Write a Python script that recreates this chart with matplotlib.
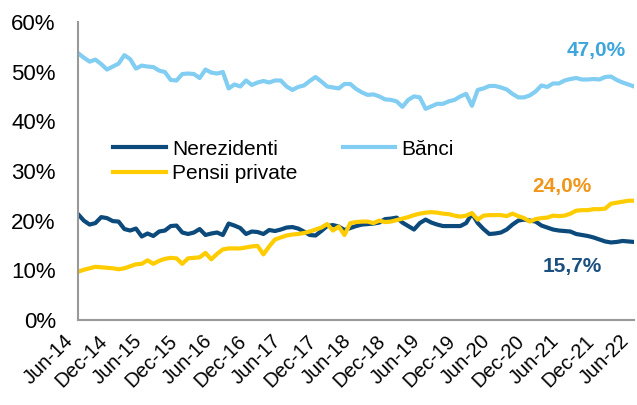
import numpy as np
import pandas as pd
import matplotlib
matplotlib.use("Agg")
import matplotlib.pyplot as plt
import matplotlib.transforms as mtransforms
from matplotlib.ticker import PercentFormatter

plt.rcParams["font.family"] = ["Liberation Sans", "DejaVu Sans"]

# monthly shares of holdings, Jun-14 .. Jun-22 (%)
nerezidenti = [
    21.3, 20.0, 19.2, 19.5, 20.7, 20.5, 19.9, 19.8, 18.3, 18.0,
    18.4, 16.8, 17.4, 16.9, 17.8, 18.0, 18.9, 19.0, 17.6, 17.3,
    17.6, 18.3, 17.1, 17.4, 17.6, 17.1, 19.4, 19.0, 18.5, 17.3,
    17.8, 17.7, 17.3, 18.1, 17.9, 18.2, 18.6, 18.7, 18.4, 17.8,
    17.1, 17.0, 17.9, 18.9, 19.1, 18.8, 18.1, 18.5, 18.9, 19.2,
    19.3, 19.4, 19.6, 20.3, 20.4, 20.6, 19.6, 18.9, 18.2, 19.5,
    20.2, 19.6, 19.2, 18.9, 18.9, 18.9, 18.9, 19.5, 21.4, 19.5,
    18.3, 17.3, 17.4, 17.6, 18.2, 19.2, 20.0, 20.2, 20.0, 19.8,
    19.0, 18.6, 18.2, 18.0, 17.9, 17.8, 17.3, 17.1, 16.9, 16.6,
    16.2, 15.8, 15.6, 15.7, 15.9, 15.8, 15.7,
]
banci = [
    53.7, 52.8, 52.0, 52.4, 51.5, 50.4, 51.0, 51.6, 53.3, 52.5,
    50.6, 51.2, 51.0, 50.9, 50.2, 49.9, 48.3, 48.2, 49.5, 49.6,
    49.5, 48.7, 50.4, 49.8, 49.6, 49.9, 46.6, 47.4, 47.0, 48.2,
    47.3, 47.8, 48.1, 47.8, 48.2, 48.2, 47.0, 46.3, 46.9, 47.2,
    48.1, 48.9, 48.0, 47.0, 46.8, 46.6, 47.5, 47.5, 46.5, 45.8,
    45.3, 45.4, 45.0, 44.4, 44.3, 44.0, 42.9, 44.3, 45.0, 44.8,
    42.5, 43.0, 43.5, 43.5, 44.0, 44.3, 45.0, 45.5, 43.1, 46.3,
    46.6, 47.1, 47.1, 46.8, 46.4, 45.5, 44.8, 44.8, 45.2, 46.0,
    47.2, 46.9, 47.6, 47.6, 48.2, 48.5, 48.7, 48.4, 48.4, 48.5,
    48.4, 48.9, 49.0, 48.3, 47.8, 47.4, 47.0,
]
pensii = [
    9.7, 10.1, 10.4, 10.7, 10.6, 10.5, 10.4, 10.2, 10.4, 10.8,
    11.2, 11.3, 12.0, 11.3, 11.9, 12.3, 12.5, 12.4, 11.3, 12.4,
    12.5, 12.6, 13.5, 12.2, 13.3, 14.2, 14.4, 14.4, 14.4, 14.6,
    14.8, 14.9, 13.2, 14.8, 16.2, 16.6, 17.0, 17.2, 17.3, 17.5,
    17.8, 18.2, 18.6, 19.3, 18.0, 18.8, 17.1, 19.5, 19.7, 19.8,
    19.8, 19.5, 20.0, 19.7, 19.8, 20.1, 20.4, 20.7, 21.1, 21.4,
    21.6, 21.7, 21.6, 21.4, 21.3, 21.0, 20.8, 21.0, 21.5, 20.2,
    21.0, 21.1, 21.1, 21.1, 20.9, 21.4, 20.9, 20.5, 19.8, 20.3,
    20.5, 20.6, 21.0, 20.9, 21.0, 21.4, 22.0, 22.1, 22.1, 22.3,
    22.3, 22.4, 23.4, 23.6, 23.8, 24.0, 24.0,
]

dates = pd.date_range("2014-06-01", periods=len(banci), freq="MS")
tick_labels = [d.strftime("%b-%y") for d in dates[::6]]

end_labels = ["47,0%", "24,0%", "15,7%"]

c_ner = "#0b4a7a"
c_ban = "#82cdf2"
c_pen = "#ffcc00"

fig = plt.figure(figsize=(6.37, 4.05), dpi=100)
ax = fig.add_axes([0.1225, 0.21, 0.873, 0.736])

x = np.arange(len(banci))
ax.plot(x, nerezidenti, color=c_ner, lw=3, label="Nerezidenti")
ax.plot(x, pensii, color=c_pen, lw=3, label="Pensii private")
ax.plot(x, banci, color=c_ban, lw=3, label="Bănci")

ax.set_xlim(0, len(banci) - 1)
ax.set_ylim(0, 60)
ax.set_yticks(range(0, 61, 10))
ax.yaxis.set_major_formatter(PercentFormatter(decimals=0))
ax.set_xticks(x[::6])
ax.set_xticklabels(tick_labels, rotation=45, ha="right", va="center",
                   rotation_mode="anchor")
ax.tick_params(axis="y", length=0, labelsize=16, pad=16)
ax.tick_params(axis="x", length=0, labelsize=14.5, pad=13)

# nudge the slanted date labels a little to the left so the last one fits
shift = mtransforms.ScaledTranslation(-6 / 72, 0, fig.dpi_scale_trans)
for lab in ax.get_xticklabels():
    lab.set_transform(lab.get_transform() + shift)

for s in ["top", "right"]:
    ax.spines[s].set_visible(False)
for s in ["left", "bottom"]:
    ax.spines[s].set_color("#999999")
    ax.spines[s].set_linewidth(1.5)

ax.legend(loc="upper left", bbox_to_anchor=(0.045, 0.64), ncol=2,
          frameon=False, fontsize=15, handlelength=2.5, handletextpad=0.3,
          columnspacing=2.2, labelspacing=0.25, borderpad=0)

ax.text(89.5, 54.2, end_labels[0], color="#3ea6dc", fontsize=15,
        fontweight="bold", ha="center", va="center")
ax.text(83.6, 26.8, end_labels[1], color="#f0961a", fontsize=15,
        fontweight="bold", ha="center", va="center")
ax.text(85.3, 10.8, end_labels[2], color="#1b4f7e", fontsize=15,
        fontweight="bold", ha="center", va="center")

fig.savefig("out.png", dpi=100)
